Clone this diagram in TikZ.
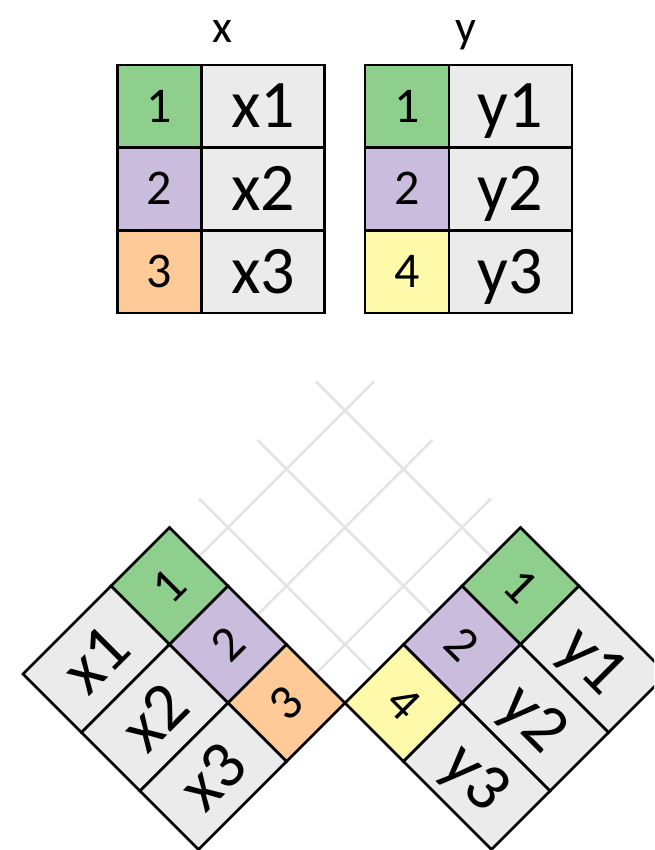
\documentclass[tikz,border=0pt]{standalone}
\usepackage{fontspec}
\setmainfont{Carlito}
\usetikzlibrary{backgrounds}
\definecolor{cgreen}{HTML}{8ECF8E}
\definecolor{cpurple}{HTML}{CABCDD}
\definecolor{corange}{HTML}{FECB98}
\definecolor{cyellow}{HTML}{FFFAAA}
\definecolor{cgrey}{HTML}{EBEBEB}
\definecolor{cgrid}{HTML}{E4E4E4}
\begin{document}
\begin{tikzpicture}[x=1pt,y=-1pt,
  cell/.style={draw=black, line width=2.6pt, inner sep=0pt, text depth=0pt},
  keycell/.style={cell, minimum width=84pt, minimum height=82.7pt, text height=31.5pt,
    font=\fontsize{50}{50}\selectfont},
  dkeycell/.style={keycell, minimum width=82.7pt},
  valcell/.style={cell, fill=cgrey, minimum width=123pt, minimum height=82.7pt, text height=43pt,
    font=\fontsize{68}{68}\selectfont},
  dvalcell/.style={valcell, minimum width=124.45pt},
  title/.style={anchor=base, inner sep=0pt, font=\fontsize{46}{46}\selectfont},
  gridline/.style={draw=cgrid, line width=2.8pt},
  lrot/.style={rotate=45},
  rrot/.style={rotate=-45}]
\useasboundingbox (0,0) rectangle (654,850);
\clip (0,0) rectangle (654,850);

% ---- top tables ----
\node[title] (xt) at (222,43) {x};
\node[title] (yt) at (466,43) {y};

\node[keycell, fill=cgreen]  (xk1) at (159.5,106.35) {1};
\node[keycell, fill=cpurple] (xk2) at (159.5,189.05) {2};
\node[keycell, fill=corange] (xk3) at (159.5,271.75) {3};
\node[valcell] (xv1) at (263,106.35) {x1};
\node[valcell] (xv2) at (263,189.05) {x2};
\node[valcell] (xv3) at (263,271.75) {x3};

\node[keycell, fill=cgreen]  (yk1) at (407,106.35) {1};
\node[keycell, fill=cpurple] (yk2) at (407,189.05) {2};
\node[keycell, fill=cyellow] (yk3) at (407,271.75) {4};
\node[valcell] (yv1) at (510.5,106.35) {y1};
\node[valcell] (yv2) at (510.5,189.05) {y2};
\node[valcell] (yv3) at (510.5,271.75) {y3};

% ---- bottom left diamond (x) ----
\node[dkeycell, lrot, fill=cgreen]  (lk1) at (169.5,586) {1};
\node[dkeycell, lrot, fill=cpurple] (lk2) at (228,644.5) {2};
\node[dkeycell, lrot, fill=corange] (lk3) at (286.5,703) {3};
\node[dvalcell, lrot] (lv1) at (96.25,659.25) {x1};
\node[dvalcell, lrot] (lv2) at (154.75,717.75) {x2};
\node[dvalcell, lrot] (lv3) at (213.25,776.25) {x3};

% ---- bottom right diamond (y) ----
\node[dkeycell, rrot, fill=cgreen]  (rk1) at (520.5,586) {1};
\node[dkeycell, rrot, fill=cpurple] (rk2) at (462,644.5) {2};
\node[dkeycell, rrot, fill=cyellow] (rk3) at (403.5,703) {4};
\node[dvalcell, rrot] (rv1) at (593.75,659.25) {y1};
\node[dvalcell, rrot] (rv2) at (535.25,717.75) {y2};
\node[dvalcell, rrot] (rv3) at (476.75,776.25) {y3};

% ---- grid of row lines ----
\begin{scope}[on background layer]
  \draw[gridline] (lk1.east) -- ++(174.25,-174.25);
  \draw[gridline] (lk2.east) -- ++(174.25,-174.25);
  \draw[gridline] (lk3.east) -- ++(174.25,-174.25);
  \draw[gridline] (rk1.west) -- ++(-174.25,-174.25);
  \draw[gridline] (rk2.west) -- ++(-174.25,-174.25);
  \draw[gridline] (rk3.west) -- ++(-174.25,-174.25);
\end{scope}
\end{tikzpicture}
\end{document}
